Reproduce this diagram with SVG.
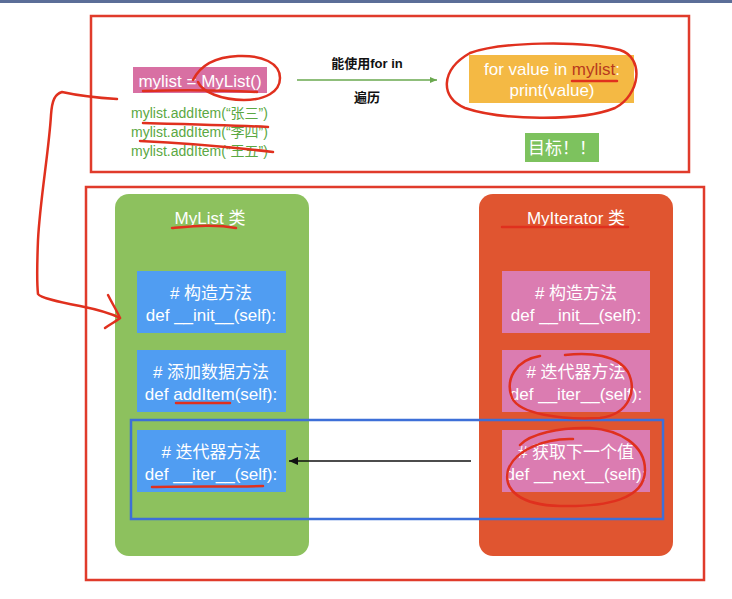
<svg xmlns="http://www.w3.org/2000/svg" width="732" height="599" viewBox="0 0 732 599">
<defs>
<style>
.frame{fill:none;stroke:#e03b2b;stroke-width:2.5}
.t{font-family:"Liberation Sans","Noto Sans CJK SC",sans-serif;fill:#fff;text-anchor:middle;font-size:17px}
.blue{fill:#509df2}
.pink{fill:#db7cb1}
.ink{fill:none;stroke:#e0301e;stroke-width:2.5;stroke-linecap:round;stroke-linejoin:round}
.green{font-family:"Liberation Sans","Noto Sans CJK SC",sans-serif;fill:#5ba843;font-size:14px}
.blk{font-family:"Liberation Sans","Noto Sans CJK SC",sans-serif;fill:#111;text-anchor:middle;font-size:13px;font-weight:bold}
</style>
<marker id="ga" markerWidth="8" markerHeight="8" refX="7" refY="4" orient="auto" markerUnits="userSpaceOnUse"><path d="M0,1 L7,4 L0,7 Z" fill="#6aa84f"/></marker>
<marker id="ba" markerWidth="10" markerHeight="10" refX="9" refY="5" orient="auto" markerUnits="userSpaceOnUse"><path d="M0,1 L9,5 L0,9 Z" fill="#111"/></marker>
</defs>
<rect width="732" height="599" fill="#fff"/>
<rect x="0" y="0" width="732" height="3" fill="#5b6e98"/>

<g id="top-frame"><rect class="frame" x="91" y="16" width="598" height="156"/></g>
<g id="bottom-frame"><rect class="frame" x="86" y="187" width="618" height="393"/></g>

<g id="mylist-create">
<rect x="133" y="67" width="134" height="26" fill="#d870a3"/>
<text class="t" x="200" y="87">mylist = MyList()</text>
</g>
<g id="additems">
<text class="green" x="131" y="118">mylist.addItem(“张三”)</text>
<text class="green" x="131" y="137">mylist.addItem(“李四”)</text>
<text class="green" x="131" y="156">mylist.addItem(“王五”)</text>
</g>

<g id="for-loop">
<rect x="469" y="55" width="165" height="48" fill="#f4b944"/>
<text class="t" x="552" y="75">for value in <tspan fill="#b83a1e">mylist</tspan>:</text>
<text class="t" x="552" y="96">print(value)</text>
</g>
<g id="goal">
<rect x="525" y="133" width="74" height="29" fill="#7dc25e"/>
<text class="t" x="562" y="154">目标！！</text>
</g>

<g id="mylist-class">
<rect x="115" y="194" width="194" height="362" rx="14" fill="#8dc15e"/>
<text class="t" x="210" y="224">MyList 类</text>
</g>
<g id="myiterator-class">
<rect x="479" y="194" width="194" height="362" rx="14" fill="#e05530"/>
<text class="t" x="576" y="224">MyIterator 类</text>
</g>

<g id="ml-init">
<rect class="blue" x="137" y="271" width="149" height="62"/>
<text class="t" x="211" y="299"># 构造方法</text>
<text class="t" x="211" y="321">def __init__(self):</text>
</g>
<g id="ml-additem">
<rect class="blue" x="137" y="350" width="149" height="62"/>
<text class="t" x="211" y="378"># 添加数据方法</text>
<text class="t" x="211" y="400">def addItem(self):</text>
</g>
<g id="ml-iter">
<rect class="blue" x="137" y="430" width="149" height="62"/>
<text class="t" x="211" y="458"># 迭代器方法</text>
<text class="t" x="211" y="480">def __iter__(self):</text>
</g>

<g id="mi-init">
<rect class="pink" x="502" y="271" width="148" height="62"/>
<text class="t" x="576" y="299"># 构造方法</text>
<text class="t" x="576" y="321">def __init__(self):</text>
</g>
<g id="mi-iter">
<rect class="pink" x="502" y="350" width="148" height="62"/>
<text class="t" x="576" y="378"># 迭代器方法</text>
<text class="t" x="576" y="400">def __iter__(self):</text>
</g>
<g id="mi-next">
<rect class="pink" x="502" y="430" width="148" height="62"/>
<text class="t" x="576" y="458"># 获取下一个值</text>
<text class="t" x="576" y="480">def __next__(self):</text>
</g>

<g id="highlight"><rect x="131" y="420" width="532" height="99" fill="none" stroke="#3d6fd8" stroke-width="2.5"/></g>

<g id="connectors">
<line x1="297" y1="80" x2="437" y2="80" stroke="#6aa84f" stroke-width="1.5" marker-end="url(#ga)"/>
<text class="blk" x="367" y="68">能使用for in</text>
<text class="blk" x="367" y="102">遍历</text>
<line x1="471" y1="461" x2="289" y2="461" stroke="#111" stroke-width="1.5" marker-end="url(#ba)"/>
</g>

<g id="annotations">
<path class="ink" d="M117,99 C100,98 80,96 62,92 C55,94 52,100 51,115 C49,150 40,200 38,240 C37,265 37,285 38,294 C40,298 60,302 80,306 C95,309 110,313 120,318"/>
<path class="ink" d="M108,295 C112,303 117,311 120,318 C115,322 109,325 105,328"/>
<path class="ink" d="M193,80 C200,66 215,57 238,56 C262,55 280,63 280,78 C280,92 265,100 244,100 C222,100 202,92 198,82"/>
<path class="ink" d="M143,91 C180,90 220,90 257,92"/>
<path class="ink" d="M143,123 C185,124 230,125 268,127"/>
<path class="ink" d="M140,141 C185,143 230,147 273,152"/>
<path class="ink" d="M470,53 C500,42 580,40 620,50 C645,58 640,95 615,108 C580,122 500,120 465,108 C440,98 440,70 470,53"/>
<path class="ink" d="M572,81 L617,81"/>
<path class="ink" d="M172,228 C195,226 215,224 236,228"/>
<path class="ink" d="M502,227 L628,227"/>
<path class="ink" d="M176,403 L230,403"/>
<path class="ink" d="M152,487 C185,486 230,487 263,486"/>
<path class="ink" d="M540,356 C515,360 505,380 512,398 C520,414 560,420 600,418 C630,414 637,390 628,372 C618,355 590,352 565,355"/>
<path class="ink" d="M573,439 C545,438 515,450 508,470 C503,490 520,505 560,506 C605,507 645,500 645,470 C645,445 620,430 590,428 C560,427 530,434 520,445"/>
</g>
</svg>
